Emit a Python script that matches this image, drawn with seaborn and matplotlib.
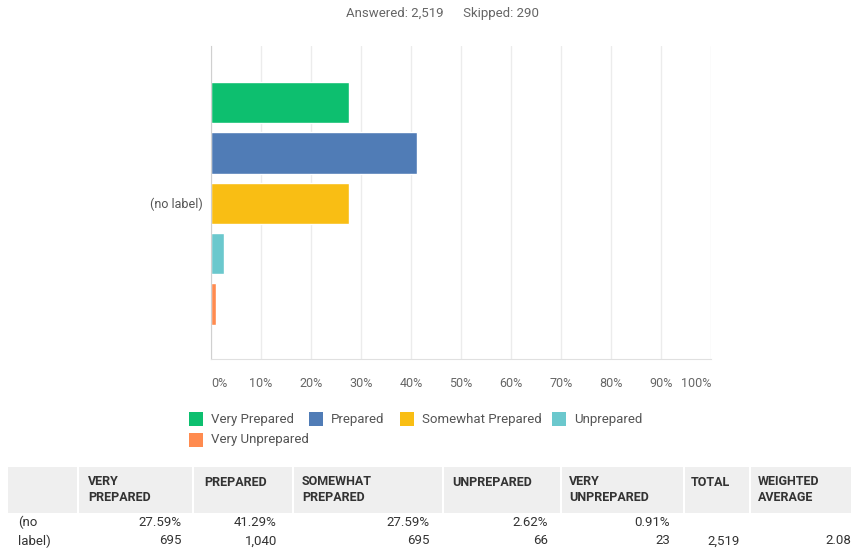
import matplotlib
matplotlib.use("Agg")
import matplotlib.pyplot as plt
from matplotlib.patches import Rectangle
import seaborn as sns

# Survey answers
categories = ["Very Prepared", "Prepared", "Somewhat Prepared", "Unprepared", "Very Unprepared"]
percents = [27.59, 41.29, 27.59, 2.62, 0.91]
counts = [695, 1040, 695, 66, 23]
colors = ["#0DBF6F", "#507CB6", "#F9BE14", "#6BC8CD", "#FF8B4F"]
answered = 2519
skipped = 290
total = 2519
weighted_avg = 2.08
xticks = list(range(0, 101, 10))

# Table header labels
headers = ["VERY\nPREPARED", "PREPARED", "SOMEWHAT\nPREPARED", "UNPREPARED",
           "VERY\nUNPREPARED", "TOTAL", "WEIGHTED\nAVERAGE"]

sns.set_style("white")
plt.rcParams['font.family'] = ['Roboto', 'DejaVu Sans']

W, H = 851, 552
fig = plt.figure(figsize=(W / 100, H / 100), dpi=100)


def fx(px):
    return px / W


def fy(py):
    return 1 - py / H


# Main bar chart
ax = fig.add_axes([fx(211), fy(359), fx(711) - fx(211), fy(46) - fy(359)])
sns.barplot(x=percents, y=categories, hue=categories, palette=colors,
            legend=False, width=0.82, orient='h', ax=ax, saturation=1)
ax.set_xlim(0, 100)
ax.set_ylim(5.09, -1.12)
ax.set_xticks(xticks)
ax.set_xticklabels([f"{v}%" for v in xticks], color="#666666", fontsize=9)
labels = ax.get_xticklabels()
labels[0].set_ha("left")
labels[-1].set_ha("right")
ax.set_yticks([])
ax.tick_params(axis='x', length=0, pad=13)
ax.xaxis.grid(True, color="#ececec", linewidth=1)
ax.set_axisbelow(True)
for side in ["top", "right"]:
    ax.spines[side].set_visible(False)
ax.spines["left"].set_color("#d0d0d0")
ax.spines["bottom"].set_color("#e0e0e0")
ax.set_xlabel("")
ax.set_ylabel("")

fig.text(fx(203), fy(204), "(no label)", ha="right", va="center",
         fontsize=9, color="#555555")

# Header line
fig.text(fx(443), fy(14), f"Answered: {answered:,}      Skipped: {skipped}",
         ha="center", va="center", fontsize=9.5, color="#666666")

# Legend drawn by hand to keep the reference flow layout
legend_pos = [(189, 419), (309, 419), (400, 419), (552, 419), (189, 440)]
for (lx, ly), name, c in zip(legend_pos, categories, colors):
    fig.add_artist(Rectangle((fx(lx), fy(ly + 7)), fx(14), 14 / H,
                             transform=fig.transFigure, color=c, lw=0))
    fig.text(fx(lx + 22), fy(ly), name, ha="left", va="center",
             fontsize=9.5, color="#555555")

# Summary table
fig.add_artist(Rectangle((fx(8), fy(513)), fx(W - 8), 46 / H,
                         transform=fig.transFigure, color="#efefef", lw=0))
for sx in [77, 192, 292, 442, 560, 683, 749]:
    fig.add_artist(Rectangle((fx(sx), fy(513)), fx(2), 46 / H,
                             transform=fig.transFigure, color="white", lw=0))

header_x = [88, 204, 302, 452, 569, 691, 758]
for hx, h in zip(header_x, headers):
    if "\n" in h:
        fig.text(fx(hx), fy(475), h, ha="left", va="top", fontsize=9,
                 color="#333333", fontweight="semibold", linespacing=1.3)
    else:
        fig.text(fx(hx), fy(482), h, ha="left", va="center", fontsize=9,
                 color="#333333", fontweight="semibold")

fig.text(fx(18), fy(522), "(no", ha="left", va="center", fontsize=9.5, color="#333333")
fig.text(fx(18), fy(541), "label)", ha="left", va="center", fontsize=9.5, color="#333333")

value_right = [182, 277, 430, 548, 670]
for rx, p, n in zip(value_right, percents, counts):
    fig.text(fx(rx), fy(522), f"{p:.2f}%", ha="right", va="center",
             fontsize=9.5, color="#333333")
    fig.text(fx(rx), fy(541), f"{n:,}", ha="right", va="center",
             fontsize=9.5, color="#333333")
fig.text(fx(740), fy(541), f"{total:,}", ha="right", va="center",
         fontsize=9.5, color="#333333")
fig.text(fx(851), fy(541), f"{weighted_avg:.2f}", ha="right", va="center",
         fontsize=9.5, color="#333333")

fig.savefig("out.png", dpi=100, facecolor="white")
